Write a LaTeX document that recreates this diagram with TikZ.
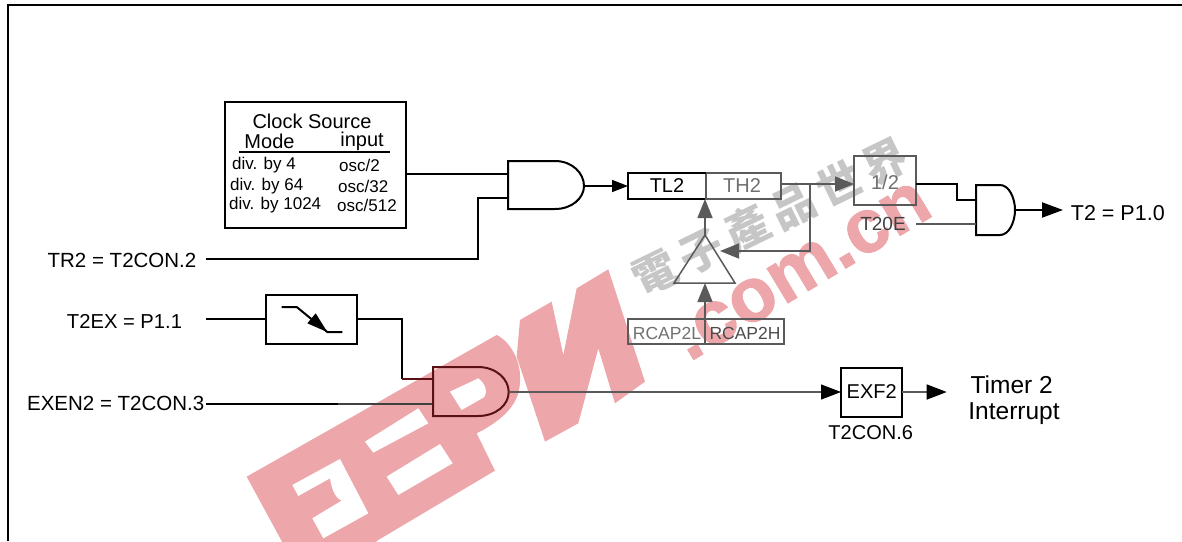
\documentclass[tikz,border=0pt]{standalone}
\usepackage{fontspec}
\setmainfont{Liberation Sans}
\newfontfamily\cjkwm{Noto Sans CJK TC}
\newfontfamily\wmlatin[BoldFeatures={FakeBold=1.5}]{Liberation Sans}
\usetikzlibrary{arrows.meta}
\definecolor{wmred}{HTML}{EDA7AA}
\definecolor{wmgray}{HTML}{C6C6C6}
\definecolor{dimline}{HTML}{5A5A5A}
\definecolor{dimtext}{HTML}{707070}
\definecolor{redline}{HTML}{5A1015}
\newcommand{\fs}[1]{\fontsize{#1}{#1}\selectfont}
\tikzset{
  wire/.style={line width=2pt,black,line join=miter},
  dimwire/.style={line width=1.5pt,dimline},
  redwire/.style={line width=2pt,redline},
  tip/.style={-{Triangle[length=19pt,width=15pt]}},
  smalltip/.style={-{Triangle[length=16pt,width=12pt]}},
  boxnode/.style={draw,line width=2pt,inner sep=0pt,outer sep=0pt,anchor=north west},
  txt/.style={inner sep=0pt,font=\fs{20}},
  smalltxt/.style={inner sep=0pt,anchor=west,font=\fs{17}},
}
\begin{document}
\begin{tikzpicture}[x=1pt,y=-1pt]
\useasboundingbox (0,0) rectangle (1182,541);
\begin{scope}
\clip (0,0) rectangle (1182,541);
% watermark: large logo
\begin{scope}[shift={(230,260)},x=0.3333pt,y=-0.3333pt]
  \fill[wmred] (870,180)--(965,125)--(1000,285)--(1040,85)--(1135,28)--(1245,365)--(1155,430)--(1105,265)--(1045,490)--(945,545)--(860,290)--cycle;
  \draw[white,line width=2.5pt] (735,255) .. controls (830,245) and (880,330) .. (870,400) .. controls (865,440) and (845,455) .. (825,470);
  \fill[wmred] (50,650)--(800,225) .. controls (850,250) and (880,320) .. (868,385) .. controls (860,445) and (800,490) .. (740,520)--(795,632)--(440,843)--(440,900)--(155,900)--(155,843)--cycle;
  \fill[white] (660,395)--(745,355) .. controls (765,370) and (775,395) .. (762,412)--(695,450)--cycle;
  \fill[white] (405,545)--(565,445)--(595,490)--(430,578)--cycle;
  \fill[white] (470,650)--(630,552)--(668,610)--(505,705)--cycle;
  \fill[white] (187,675)--(330,597)--(415,760)--(280,835)--(247,775)--(335,722) .. controls (310,710) and (305,680) .. (300,655)--(205,708)--cycle;
\end{scope}
\node[inner sep=0pt,text=wmgray,rotate=26] (wmcn) at (770,217) {\cjkwm\bfseries\fs{44}電\hspace{7pt}子\hspace{7pt}產\hspace{7pt}品\hspace{7pt}世\hspace{7pt}界};
\node[inner sep=0pt,text=wmred,rotate=31,font=\wmlatin\bfseries\fs{76}] (wmcom) at (802,271) {.com.cn};
% frame
\draw[line width=2.2pt] (8,541)--(8,5)--(1182,5);
\end{scope}

% clock source box
\node[boxnode,minimum width=181pt,minimum height=126pt] (clock) at (225,102) {};
\node[txt] (clocktitle) at (312,121) {Clock Source};
\node[txt] (modehead) at (269.5,141.5) {Mode};
\node[txt] (inputhead) at (362,141.5) {input};
\coordinate (ruleL) at (239,152);
\coordinate (ruleR) at (390,152);
\draw[wire] (ruleL)--(ruleR);
\node[smalltxt] (m1) at (232,165) {div. by 4};
\node[smalltxt] (i1) at (339,165) {osc/2};
\node[smalltxt] (m2) at (230,186) {div. by 64};
\node[smalltxt] (i2) at (338,186) {osc/32};
\node[smalltxt] (m3) at (229,205) {div. by 1024};
\node[smalltxt] (i3) at (337,205) {osc/512};

% labels on the left
\node[txt,font=\fs{20.5}] (tr2) at (122,260) {TR2 = T2CON.2};
\node[txt,font=\fs{20.2}] (t2ex) at (124.5,321) {T2EX = P1.1};
\node[txt,font=\fs{20.5}] (exen) at (115.7,403) {EXEN2 = T2CON.3};
\coordinate (tr2out) at (206,259);
\coordinate (t2exout) at (206,319);
\coordinate (exenout) at (206,404);

% gate 1
\coordinate (g1a) at (508,174);
\coordinate (g1b) at (508,198);
\coordinate (g1o) at (584,186);
\draw[wire] (555,161)--(508,161)--(508,209)--(555,209) .. controls (572,209) and (584,198) .. (g1o) .. controls (584,173) and (572,161) .. (555,161);
\draw[wire] (clock.east |- g1a)--(g1a);
\draw[wire] (tr2out)-|(478,198)--(g1b);

% counter registers
\node[boxnode,minimum width=78pt,minimum height=26pt] (tl2) at (628,173) {};
\node[boxnode,draw=dimline,minimum width=75pt,minimum height=26pt] (th2) at (706,173) {};
\draw[line width=2pt] (tl2.north west)--(tl2.north east);
\node[txt] (tl2t) at (667,186) {TL2};
\node[txt,text=dimtext] (th2t) at (742,186) {TH2};
\draw[wire,line width=1.5pt,smalltip] (g1o)--(tl2.west |- g1o);

% divide by two
\node[boxnode,draw=dimline,minimum width=62pt,minimum height=49pt] (half) at (854,156) {};
\node[txt,text=dimtext] (halft) at (885,182.5) {1/2};
\node[txt,font=\fs{19},text=black!75] (t20e) at (883,224) {T20E};
\coordinate (thout) at (781,184);
\coordinate (branch) at (810,184);
\draw[dimwire,tip] (thout)--(half.west |- thout);

% reload triangle
\coordinate (triA) at (705,235);
\coordinate (triL) at (674,283);
\coordinate (triR) at (735,283);
\coordinate (triS) at (720,251);
\coordinate (triB) at (705,283);
\draw[dimwire] (triA)--(triL)--(triR)--cycle;
\draw[dimwire,tip] (branch)--(branch |- triS)--(triS);
\draw[dimwire,tip] (triA)--(705,199);

% reload registers
\node[boxnode,draw=dimline,minimum width=77pt,minimum height=25pt] (rl) at (628,319) {};
\node[boxnode,draw=dimline,minimum width=79pt,minimum height=25pt] (rh) at (705,319) {};
\node[txt,font=\fs{17.5},text=dimtext] (rlt) at (667,333) {RCAP2L};
\node[txt,font=\fs{17.5},text=black!70] (rht) at (745,333) {RCAP2H};
\draw[dimwire,tip] (rh.south west)--(triB);

% gate 2
\coordinate (g2a) at (976,200);
\coordinate (g2b) at (976,224);
\coordinate (g2o) at (1015,210);
\draw[wire] (1000,185)--(976,185)--(976,235)--(1000,235) .. controls (1009,235) and (1015,222) .. (g2o) .. controls (1015,198) and (1009,185) .. (1000,185);
\draw[wire] (half.east |- thout)-|(957,200)--(g2a);
\draw[dimwire,line width=1.8pt] (half.east |- g2b)--(g2b);
\node[txt,font=\fs{21.5},anchor=west] (t2) at (1070.7,213) {T2 = P1.0};
\coordinate (t2tip) at (1063,210);
\draw[wire,-{Triangle[length=21pt,width=15pt]}] (g2o)--(t2tip);

% falling-edge detector
\node[boxnode,minimum width=91pt,minimum height=49pt] (edge) at (266,295) {};
\coordinate (e1) at (281.7,307);
\coordinate (e2) at (296.7,307);
\coordinate (e3) at (327.3,332);
\coordinate (e4) at (342.3,332);
\draw[wire] (e1)--(e2)--(e3)--(e4);
\fill (e3)--(307.3,323.3)--(315.7,313.3)--cycle;
\draw[wire] (t2exout)--(edge.west |- t2exout);

% gate 3
\coordinate (g3a) at (433,379);
\coordinate (g3b) at (433,404);
\coordinate (g3o) at (508.7,392);
\coordinate (exenmid) at (338,404);
\coordinate (g3in) at (402,379);
\draw[wire] (edge.east |- t2exout)-|(g3in);
\draw[redwire] (g3in)--(g3a);
\draw[wire] (exenout)--(exenmid);
\draw[redwire,draw=black!75] (exenmid)--(g3b);
\draw[redwire] (478,367)--(433,367)--(433,416)--(478,416) .. controls (496,416) and (508.7,405) .. (g3o) .. controls (508.7,379) and (496,367) .. (478,367);

% EXF2
\node[boxnode,minimum width=61pt,minimum height=49pt] (exf) at (841,367.5) {};
\node[txt] (exft) at (871.7,391.7) {EXF2};
\node[txt] (con6) at (870.7,432.7) {T2CON.6};
\draw[dimwire,line width=1.2pt,-{Triangle[length=20pt,width=15pt,black]}] (g3o)--(exf.west |- g3o);
\coordinate (intarrow) at (946.7,392);
\draw[dimwire,-{Triangle[length=20pt,width=15pt,black]}] (exf.east |- intarrow)--(intarrow);
\node[txt,font=\fs{24.5}] (timer) at (1011.7,385) {Timer 2};
\node[txt,font=\fs{24.5}] (intr) at (1014,414) {Interrupt};
\end{tikzpicture}
\end{document}
